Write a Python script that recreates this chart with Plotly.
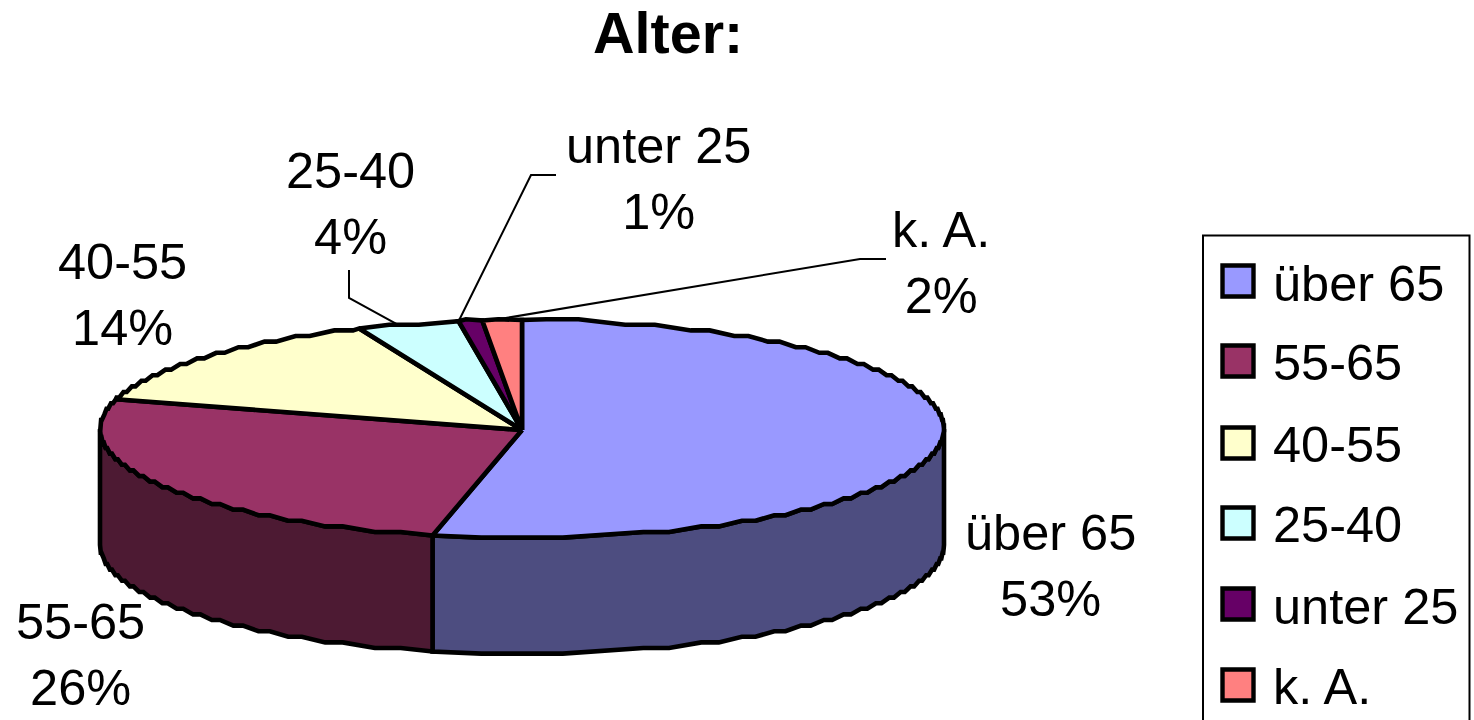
import math
import plotly.graph_objects as go

# ---- data ----
categories = ["über 65", "55-65", "40-55", "25-40", "unter 25", "k. A."]
shares = [53.4, 26.0, 14.3, 3.9, 0.9, 1.5]
percent_labels = ["53%", "26%", "14%", "4%", "1%", "2%"]
top_colors = ["#9999FF", "#993366", "#FFFFCC", "#CCFFFF", "#660066", "#FF8080"]
side_colors = ["#4D4D80", "#4D1A33", "#80805F", "#668080", "#330033", "#804040"]
title_text = "Alter:"

# ---- pie geometry (page pixels) ----
CX, CY, RX, RY, DEPTH = 522.0, 429.0, 422.0, 109.0, 116.0
STEP = 5.6           # coarse grid that gives the rim its jagged look
W, H = 1474, 720
OUT = 4.6
FONT = "Liberation Sans, Arial, sans-serif"

label_pos = {
    "über 65": (1050, 565), "55-65": (80, 654), "40-55": (122, 294),
    "25-40": (350, 203), "unter 25": (658, 178), "k. A.": (941, 262),
}
legend_rows = [281, 361, 443, 523, 604, 685]
legend_text_rows = [283, 362, 444, 524, 606, 686]
leader_bends = {
    "25-40": [(349, 270), (349, 298)],
    "unter 25": [(556, 175), (531, 175)],
    "k. A.": [(886, 259), (860, 259)],
}
leader_anchor = {"25-40": 0.4, "unter 25": 0.0, "k. A.": 0.25}


def pt(theta):
    """Point on the rim; theta is clockwise from 12 o'clock, in degrees."""
    a = math.radians(theta)
    return CX + RX * math.sin(a), CY - RY * math.cos(a)


def jagged_rim():
    """Dense rim, snapped to a coarse grid, with flats joined by diagonals."""
    runs = []
    for i in range(0, 7201):
        th = i / 20
        x, y = pt(th)
        key = round(y / STEP)
        if runs and runs[-1][0] == key:
            runs[-1][1].append((th, x))
        else:
            runs.append((key, [(th, x)]))
    rim = []
    for key, run in runs:
        yq = key * STEP
        n = len(run)
        for frac in (0.3, 0.7):
            th, x = run[min(n - 1, int(n * frac))]
            rim.append((th, x, yq))
    return rim


RIM = jagged_rim()


def arc(a, b):
    """Jagged rim points between two angles (exact end points included)."""
    inner = [(x, y) for th, x, y in RIM if a < th < b]
    return [pt(a)] + inner + [pt(b)]


fig = go.Figure()

# angle bounds from the data
total = sum(shares)
bounds = [0.0]
for s in shares:
    bounds.append(bounds[-1] + s / total * 360)

# visible side walls (front half of the disc only)
for i, cat in enumerate(categories):
    a, b = max(bounds[i], 90), min(bounds[i + 1], 270)
    if a >= b:
        continue
    rim = arc(a, b)
    poly = rim + [(x, y + DEPTH) for x, y in reversed(rim)] + [rim[0]]
    fig.add_trace(go.Scatter(
        x=[p[0] for p in poly], y=[p[1] for p in poly], mode="lines",
        fill="toself", fillcolor=side_colors[i],
        line=dict(color="black", width=OUT), showlegend=False, hoverinfo="skip",
    ))

# top faces
for i, cat in enumerate(categories):
    poly = [(CX, CY + 1)] + arc(bounds[i], bounds[i + 1]) + [(CX, CY + 1)]
    fig.add_trace(go.Scatter(
        x=[p[0] for p in poly], y=[p[1] for p in poly], mode="lines",
        fill="toself", fillcolor=top_colors[i],
        line=dict(color="black", width=OUT), name=cat, showlegend=False,
        hovertemplate=f"{cat}: {percent_labels[i]}<extra></extra>",
    ))

# leader lines from the small slices to their labels
for cat, bends in leader_bends.items():
    i = categories.index(cat)
    end = pt(bounds[i] + leader_anchor[cat] * (bounds[i + 1] - bounds[i]))
    line = bends + [end]
    fig.add_trace(go.Scatter(
        x=[p[0] for p in line], y=[p[1] for p in line], mode="lines",
        line=dict(color="black", width=2), showlegend=False, hoverinfo="skip",
    ))

# data labels
for i, cat in enumerate(categories):
    lx, ly = label_pos[cat]
    fig.add_annotation(
        x=lx, y=ly, text=f"{cat}<br>{percent_labels[i]}", showarrow=False,
        font=dict(family=FONT, size=50.5, color="black"), align="center",
    )

# legend key
fig.add_trace(go.Scatter(
    x=[1238] * len(categories), y=legend_rows, mode="markers",
    marker=dict(symbol="square", size=31, color=top_colors,
                line=dict(color="black", width=4.4)),
    showlegend=False, hoverinfo="skip",
))
for cat, row in zip(categories, legend_text_rows):
    fig.add_annotation(
        x=1271, y=row, text=cat, showarrow=False, xanchor="left",
        font=dict(family=FONT, size=50.5, color="black"),
    )

fig.add_shape(type="rect", x0=1203, x1=1469.5, y0=235.5, y1=760,
              line=dict(color="black", width=2), fillcolor="rgba(0,0,0,0)", layer="below")

fig.add_annotation(
    x=668, y=33, text=f"<b>{title_text}</b>", showarrow=False,
    font=dict(family=FONT, size=57.5, color="black"),
)

fig.update_layout(
    width=W, height=H, autosize=False,
    margin=dict(l=0, r=0, t=0, b=0),
    paper_bgcolor="white", plot_bgcolor="white", showlegend=False,
    xaxis=dict(range=[0, W], visible=False, fixedrange=True),
    yaxis=dict(range=[H, 0], visible=False, fixedrange=True),
)

fig.write_html("out.html", config={"displayModeBar": False},
               post_script="document.body.style.margin='0';")
